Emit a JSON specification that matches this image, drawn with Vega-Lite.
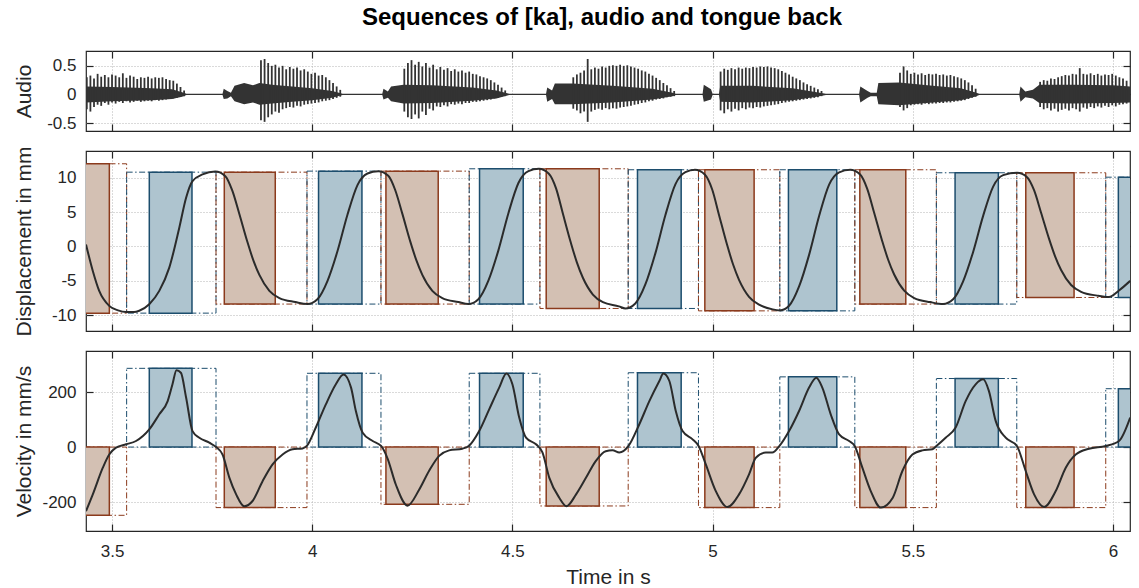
{
"$schema": "https://vega.github.io/schema/vega-lite/v6.json",
"padding": {"left": 12, "top": 5, "right": 8, "bottom": 0},
"title": {"text": "Sequences of [ka], audio and tongue back", "font": "Liberation Sans", "fontSize": 24, "fontWeight": "bold", "color": "#000000", "anchor": "middle", "frame": "group", "offset": 20, "dx": -6},
"datasets": {
"ges": [
{"kind":"fall","ds":3.40,"de":3.5365,"fs":3.40,"fe":3.4933,"dlo":-9.70,"dhi":12.04,"v":-248},
{"kind":"rise","ds":3.5365,"de":3.7597,"fs":3.5931,"fe":3.6997,"dlo":-9.70,"dhi":10.82,"v":286},
{"kind":"fall","ds":3.7597,"de":3.9869,"fs":3.7804,"fe":3.9077,"dlo":-8.38,"dhi":10.82,"v":-220},
{"kind":"rise","ds":3.9869,"de":4.1717,"fs":4.0158,"fe":4.1242,"dlo":-8.38,"dhi":10.97,"v":268},
{"kind":"fall","ds":4.1717,"de":4.3921,"fs":4.1841,"fe":4.3147,"dlo":-8.38,"dhi":10.97,"v":-208},
{"kind":"rise","ds":4.3921,"de":4.5687,"fs":4.4179,"fe":4.5270,"dlo":-8.38,"dhi":11.31,"v":268},
{"kind":"fall","ds":4.5687,"de":4.7892,"fs":4.5844,"fe":4.7168,"dlo":-9.02,"dhi":11.31,"v":-214},
{"kind":"rise","ds":4.7892,"de":4.9647,"fs":4.8124,"fe":4.9215,"dlo":-9.02,"dhi":11.17,"v":270},
{"kind":"fall","ds":4.9647,"de":5.1679,"fs":4.9806,"fe":5.1037,"dlo":-9.37,"dhi":11.17,"v":-220},
{"kind":"rise","ds":5.1679,"de":5.3552,"fs":5.1894,"fe":5.3102,"dlo":-9.37,"dhi":11.17,"v":255},
{"kind":"fall","ds":5.3552,"de":5.5589,"fs":5.3677,"fe":5.4825,"dlo":-8.38,"dhi":11.17,"v":-220},
{"kind":"rise","ds":5.5589,"de":5.7597,"fs":5.6056,"fe":5.7137,"dlo":-8.38,"dhi":10.73,"v":249},
{"kind":"fall","ds":5.7597,"de":5.9819,"fs":5.7822,"fe":5.9028,"dlo":-7.42,"dhi":10.73,"v":-220},
{"kind":"rise","ds":5.9819,"de":6.10,"fs":6.0134,"fe":6.10,"dlo":-7.42,"dhi":10.09,"v":212}
],
"disp": [
{"t":3.435,"d":0.3},{"t":3.452,"d":-3.56},{"t":3.468,"d":-6.46},{"t":3.493,"d":-8.64},{"t":3.515,"d":-9.3},{"t":3.535,"d":-9.55},{"t":3.555,"d":-9.55},
{"t":3.568,"d":-9.35},{"t":3.593,"d":-8.4},{"t":3.618,"d":-6.46},{"t":3.643,"d":-3.07},{"t":3.668,"d":2.74},{"t":3.685,"d":7.10},{"t":3.701,"d":9.51},{"t":3.726,"d":10.49},
{"t":3.758,"d":10.9},{"t":3.783,"d":10.23},{"t":3.800,"d":8.20},{"t":3.818,"d":4.73},{"t":3.838,"d":0.68},{"t":3.853,"d":-2.02},{"t":3.868,"d":-4.14},{"t":3.893,"d":-6.45},{"t":3.918,"d":-7.51},{"t":3.958,"d":-8.09},
{"t":3.988,"d":-8.38},{"t":4.013,"d":-7.68},{"t":4.038,"d":-5.03},{"t":4.063,"d":-0.70},{"t":4.088,"d":4.62},{"t":4.113,"d":8.94},{"t":4.138,"d":10.62},
{"t":4.165,"d":10.97},{"t":4.190,"d":10.29},{"t":4.207,"d":8.26},{"t":4.225,"d":4.78},{"t":4.245,"d":0.71},{"t":4.260,"d":-1.99},{"t":4.275,"d":-4.12},{"t":4.300,"d":-6.45},{"t":4.325,"d":-7.51},{"t":4.365,"d":-8.09},
{"t":4.390,"d":-8.38},{"t":4.415,"d":-7.67},{"t":4.440,"d":-4.97},{"t":4.465,"d":-0.56},{"t":4.490,"d":4.85},{"t":4.515,"d":9.24},{"t":4.540,"d":10.96},
{"t":4.566,"d":11.31},{"t":4.591,"d":10.60},{"t":4.609,"d":8.46},{"t":4.626,"d":4.80},{"t":4.646,"d":0.54},{"t":4.661,"d":-2.31},{"t":4.676,"d":-4.55},{"t":4.701,"d":-6.99},{"t":4.726,"d":-8.11},{"t":4.766,"d":-8.71},
{"t":4.782,"d":-9.02},{"t":4.807,"d":-8.29},{"t":4.832,"d":-5.53},{"t":4.857,"d":-1.00},{"t":4.882,"d":4.55},{"t":4.907,"d":9.05},{"t":4.932,"d":10.81},
{"t":4.956,"d":11.17},{"t":4.981,"d":10.45},{"t":4.999,"d":8.29},{"t":5.016,"d":4.60},{"t":5.036,"d":0.28},{"t":5.051,"d":-2.59},{"t":5.066,"d":-4.85},{"t":5.091,"d":-7.32},{"t":5.116,"d":-8.45},{"t":5.150,"d":-9.15},
{"t":5.168,"d":-9.30},{"t":5.191,"d":-8.63},{"t":5.216,"d":-5.82},{"t":5.241,"d":-1.22},{"t":5.266,"d":4.43},{"t":5.291,"d":9.01},{"t":5.316,"d":10.80},
{"t":5.3435,"d":11.17},{"t":5.3685,"d":10.49},{"t":5.386,"d":8.43},{"t":5.4035,"d":4.91},{"t":5.4235,"d":0.81},{"t":5.4385,"d":-1.93},{"t":5.4535,"d":-4.08},{"t":5.4785,"d":-6.43},{"t":5.5035,"d":-7.50},{"t":5.5435,"d":-8.09},
{"t":5.5757,"d":-8.38},{"t":5.6007,"d":-7.69},{"t":5.6257,"d":-5.07},{"t":5.6507,"d":-0.79},{"t":5.6757,"d":4.46},{"t":5.7007,"d":8.72},{"t":5.7257,"d":10.39},
{"t":5.7604,"d":10.73},{"t":5.7854,"d":10.09},{"t":5.8029,"d":8.19},{"t":5.8204,"d":4.92},{"t":5.8404,"d":1.11},{"t":5.8554,"d":-1.43},{"t":5.8704,"d":-3.43},{"t":5.8954,"d":-5.61},{"t":5.9204,"d":-6.60},{"t":5.9604,"d":-7.15},
{"t":5.990,"d":-7.35},{"t":6.015,"d":-6.4},{"t":6.043,"d":-5.0}
],
"vel": [
{"t":3.435,"v":-233},{"t":3.452,"v":-172},{"t":3.477,"v":-75},{"t":3.493,"v":-27},{"t":3.510,"v":-2},{"t":3.535,"v":10},{"t":3.560,"v":22},{"t":3.593,"v":64},{"t":3.618,"v":119},{"t":3.639,"v":167},{"t":3.651,"v":228},{"t":3.661,"v":279},{"t":3.672,"v":270},{"t":3.685,"v":180},{"t":3.701,"v":58},{"t":3.718,"v":34},{"t":3.743,"v":16},{"t":3.760,"v":0},
{"t":3.776,"v":-27},{"t":3.793,"v":-111},{"t":3.810,"v":-172},{"t":3.830,"v":-215},{"t":3.851,"v":-196},{"t":3.876,"v":-124},{"t":3.901,"v":-63},{"t":3.926,"v":-27},{"t":3.951,"v":-8},{"t":3.976,"v":-5},{"t":3.987,"v":5},
{"t":4.009,"v":71},{"t":4.034,"v":155},{"t":4.059,"v":228},{"t":4.078,"v":264},{"t":4.097,"v":216},{"t":4.109,"v":131},{"t":4.126,"v":52},{"t":4.151,"v":22},{"t":4.172,"v":4},
{"t":4.188,"v":-41},{"t":4.209,"v":-137},{"t":4.238,"v":-213},{"t":4.267,"v":-155},{"t":4.292,"v":-86},{"t":4.317,"v":-32},{"t":4.342,"v":-12},{"t":4.375,"v":-6},{"t":4.392,"v":5},
{"t":4.417,"v":58},{"t":4.442,"v":137},{"t":4.467,"v":216},{"t":4.485,"v":267},{"t":4.500,"v":228},{"t":4.517,"v":107},{"t":4.534,"v":34},{"t":4.559,"v":10},
{"t":4.575,"v":-19},{"t":4.592,"v":-111},{"t":4.617,"v":-184},{"t":4.635,"v":-215},{"t":4.659,"v":-172},{"t":4.684,"v":-111},{"t":4.708,"v":-51},{"t":4.733,"v":-15},{"t":4.750,"v":-12},{"t":4.767,"v":-20},{"t":4.790,"v":4},
{"t":4.817,"v":83},{"t":4.842,"v":167},{"t":4.867,"v":240},{"t":4.877,"v":267},{"t":4.892,"v":240},{"t":4.908,"v":131},{"t":4.925,"v":58},{"t":4.950,"v":28},{"t":4.965,"v":4},
{"t":4.983,"v":-63},{"t":5.008,"v":-160},{"t":5.037,"v":-218},{"t":5.066,"v":-172},{"t":5.091,"v":-99},{"t":5.108,"v":-39},{"t":5.133,"v":-20},{"t":5.149,"v":-20},{"t":5.167,"v":4},
{"t":5.191,"v":58},{"t":5.216,"v":131},{"t":5.241,"v":216},{"t":5.259,"v":252},{"t":5.274,"v":216},{"t":5.295,"v":119},{"t":5.316,"v":46},{"t":5.341,"v":22},{"t":5.355,"v":4},
{"t":5.374,"v":-75},{"t":5.395,"v":-160},{"t":5.420,"v":-220},{"t":5.450,"v":-184},{"t":5.474,"v":-87},{"t":5.499,"v":-27},{"t":5.524,"v":-12},{"t":5.549,"v":-8},{"t":5.559,"v":4},
{"t":5.582,"v":34},{"t":5.607,"v":71},{"t":5.632,"v":167},{"t":5.657,"v":228},{"t":5.676,"v":246},{"t":5.690,"v":204},{"t":5.707,"v":95},{"t":5.732,"v":34},{"t":5.760,"v":4},
{"t":5.782,"v":-87},{"t":5.803,"v":-172},{"t":5.828,"v":-218},{"t":5.857,"v":-160},{"t":5.882,"v":-75},{"t":5.907,"v":-27},{"t":5.940,"v":-6},{"t":5.982,"v":4},{"t":6.015,"v":22},{"t":6.043,"v":107}
],
"band": [
{"t":3.435,"lo":-0.14,"hi":0.14},{"t":3.50,"lo":-0.12,"hi":0.13},{"t":3.60,"lo":-0.10,"hi":0.11},{"t":3.65,"lo":-0.08,"hi":0.09},{"t":3.675,"lo":-0.04,"hi":0.04},{"t":3.686,"lo":-0.012,"hi":0.012},
{"t":3.776,"lo":-0.012,"hi":0.012},{"t":3.779,"lo":-0.08,"hi":0.10},{"t":3.788,"lo":-0.07,"hi":0.06},{"t":3.797,"lo":-0.03,"hi":0.03},{"t":3.806,"lo":-0.12,"hi":0.15},{"t":3.830,"lo":-0.17,"hi":0.20},{"t":3.852,"lo":-0.14,"hi":0.16},{"t":3.868,"lo":-0.18,"hi":0.20},
{"t":3.90,"lo":-0.16,"hi":0.17},{"t":3.95,"lo":-0.13,"hi":0.14},{"t":4.00,"lo":-0.10,"hi":0.11},{"t":4.05,"lo":-0.06,"hi":0.06},{"t":4.076,"lo":-0.012,"hi":0.012},
{"t":4.175,"lo":-0.012,"hi":0.012},{"t":4.178,"lo":-0.09,"hi":0.10},{"t":4.189,"lo":-0.06,"hi":0.05},{"t":4.197,"lo":-0.12,"hi":0.14},{"t":4.228,"lo":-0.16,"hi":0.17},{"t":4.30,"lo":-0.15,"hi":0.16},{"t":4.40,"lo":-0.11,"hi":0.12},{"t":4.46,"lo":-0.07,"hi":0.07},{"t":4.492,"lo":-0.012,"hi":0.012},
{"t":4.584,"lo":-0.012,"hi":0.012},{"t":4.587,"lo":-0.13,"hi":0.12},{"t":4.599,"lo":-0.08,"hi":0.07},{"t":4.606,"lo":-0.17,"hi":0.19},{"t":4.650,"lo":-0.17,"hi":0.19},{"t":4.75,"lo":-0.14,"hi":0.15},{"t":4.85,"lo":-0.09,"hi":0.10},{"t":4.90,"lo":-0.03,"hi":0.03},{"t":4.908,"lo":-0.012,"hi":0.012},
{"t":4.975,"lo":-0.012,"hi":0.012},{"t":4.978,"lo":-0.13,"hi":0.17},{"t":4.996,"lo":-0.09,"hi":0.09},{"t":5.000,"lo":-0.012,"hi":0.012},{"t":5.016,"lo":-0.012,"hi":0.012},
{"t":5.019,"lo":-0.13,"hi":0.15},{"t":5.10,"lo":-0.14,"hi":0.15},{"t":5.20,"lo":-0.10,"hi":0.11},{"t":5.26,"lo":-0.04,"hi":0.04},{"t":5.283,"lo":-0.012,"hi":0.012},
{"t":5.366,"lo":-0.012,"hi":0.012},{"t":5.369,"lo":-0.14,"hi":0.14},{"t":5.387,"lo":-0.06,"hi":0.06},{"t":5.395,"lo":-0.03,"hi":0.03},{"t":5.410,"lo":-0.03,"hi":0.03},{"t":5.414,"lo":-0.17,"hi":0.20},{"t":5.466,"lo":-0.19,"hi":0.21},
{"t":5.55,"lo":-0.14,"hi":0.15},{"t":5.62,"lo":-0.10,"hi":0.11},{"t":5.655,"lo":-0.04,"hi":0.04},{"t":5.666,"lo":-0.012,"hi":0.012},
{"t":5.766,"lo":-0.012,"hi":0.012},{"t":5.769,"lo":-0.13,"hi":0.14},{"t":5.781,"lo":-0.05,"hi":0.05},{"t":5.80,"lo":-0.07,"hi":0.08},{"t":5.816,"lo":-0.15,"hi":0.17},{"t":5.90,"lo":-0.16,"hi":0.17},{"t":6.00,"lo":-0.15,"hi":0.16},{"t":6.043,"lo":-0.14,"hi":0.14}
],
"spikes": [
{"t":3.437,"lo":-0.26,"hi":0.30},{"t":3.446,"lo":-0.30,"hi":0.33},{"t":3.455,"lo":-0.22,"hi":0.28},{"t":3.464,"lo":-0.18,"hi":0.36},{"t":3.473,"lo":-0.20,"hi":0.31},{"t":3.482,"lo":-0.15,"hi":0.34},{"t":3.491,"lo":-0.18,"hi":0.30},{"t":3.500,"lo":-0.14,"hi":0.35},{"t":3.509,"lo":-0.16,"hi":0.33},{"t":3.518,"lo":-0.13,"hi":0.30},{"t":3.527,"lo":-0.15,"hi":0.37},{"t":3.536,"lo":-0.12,"hi":0.29},{"t":3.545,"lo":-0.14,"hi":0.33},{"t":3.554,"lo":-0.13,"hi":0.31},{"t":3.563,"lo":-0.11,"hi":0.27},{"t":3.572,"lo":-0.13,"hi":0.30},{"t":3.581,"lo":-0.12,"hi":0.29},{"t":3.590,"lo":-0.11,"hi":0.31},{"t":3.599,"lo":-0.12,"hi":0.28},{"t":3.608,"lo":-0.10,"hi":0.30},{"t":3.617,"lo":-0.11,"hi":0.29},{"t":3.626,"lo":-0.10,"hi":0.30},{"t":3.635,"lo":-0.09,"hi":0.27},{"t":3.644,"lo":-0.08,"hi":0.25},{"t":3.653,"lo":-0.07,"hi":0.24},{"t":3.662,"lo":-0.06,"hi":0.19},{"t":3.671,"lo":-0.04,"hi":0.13},{"t":3.680,"lo":-0.03,"hi":0.07},
{"t":3.872,"lo":-0.45,"hi":0.60},{"t":3.881,"lo":-0.48,"hi":0.62},{"t":3.890,"lo":-0.40,"hi":0.55},{"t":3.899,"lo":-0.35,"hi":0.50},{"t":3.908,"lo":-0.30,"hi":0.52},{"t":3.917,"lo":-0.32,"hi":0.47},{"t":3.926,"lo":-0.26,"hi":0.50},{"t":3.935,"lo":-0.24,"hi":0.44},{"t":3.944,"lo":-0.22,"hi":0.48},{"t":3.953,"lo":-0.23,"hi":0.45},{"t":3.962,"lo":-0.20,"hi":0.47},{"t":3.971,"lo":-0.21,"hi":0.42},{"t":3.980,"lo":-0.18,"hi":0.44},{"t":3.989,"lo":-0.17,"hi":0.40},{"t":3.998,"lo":-0.16,"hi":0.36},{"t":4.007,"lo":-0.15,"hi":0.38},{"t":4.016,"lo":-0.14,"hi":0.33},{"t":4.025,"lo":-0.12,"hi":0.34},{"t":4.034,"lo":-0.11,"hi":0.30},{"t":4.043,"lo":-0.10,"hi":0.25},{"t":4.052,"lo":-0.08,"hi":0.20},{"t":4.061,"lo":-0.06,"hi":0.14},{"t":4.070,"lo":-0.04,"hi":0.08},
{"t":4.230,"lo":-0.30,"hi":0.45},{"t":4.239,"lo":-0.40,"hi":0.55},{"t":4.248,"lo":-0.43,"hi":0.60},{"t":4.257,"lo":-0.35,"hi":0.52},{"t":4.266,"lo":-0.42,"hi":0.57},{"t":4.275,"lo":-0.30,"hi":0.49},{"t":4.284,"lo":-0.36,"hi":0.55},{"t":4.293,"lo":-0.25,"hi":0.47},{"t":4.302,"lo":-0.28,"hi":0.52},{"t":4.311,"lo":-0.21,"hi":0.44},{"t":4.320,"lo":-0.22,"hi":0.48},{"t":4.329,"lo":-0.19,"hi":0.43},{"t":4.338,"lo":-0.21,"hi":0.46},{"t":4.347,"lo":-0.17,"hi":0.41},{"t":4.356,"lo":-0.18,"hi":0.44},{"t":4.365,"lo":-0.16,"hi":0.40},{"t":4.374,"lo":-0.17,"hi":0.42},{"t":4.383,"lo":-0.15,"hi":0.38},{"t":4.392,"lo":-0.15,"hi":0.40},{"t":4.401,"lo":-0.13,"hi":0.36},{"t":4.410,"lo":-0.13,"hi":0.35},{"t":4.419,"lo":-0.12,"hi":0.32},{"t":4.428,"lo":-0.11,"hi":0.30},{"t":4.437,"lo":-0.10,"hi":0.28},{"t":4.446,"lo":-0.09,"hi":0.25},{"t":4.455,"lo":-0.07,"hi":0.21},{"t":4.464,"lo":-0.06,"hi":0.17},{"t":4.473,"lo":-0.04,"hi":0.12},{"t":4.482,"lo":-0.03,"hi":0.07},
{"t":4.652,"lo":-0.25,"hi":0.30},{"t":4.661,"lo":-0.28,"hi":0.35},{"t":4.670,"lo":-0.33,"hi":0.38},{"t":4.679,"lo":-0.30,"hi":0.42},{"t":4.688,"lo":-0.48,"hi":0.62},{"t":4.697,"lo":-0.30,"hi":0.44},{"t":4.706,"lo":-0.27,"hi":0.47},{"t":4.715,"lo":-0.25,"hi":0.45},{"t":4.724,"lo":-0.27,"hi":0.49},{"t":4.733,"lo":-0.24,"hi":0.47},{"t":4.742,"lo":-0.26,"hi":0.50},{"t":4.751,"lo":-0.24,"hi":0.51},{"t":4.760,"lo":-0.25,"hi":0.50},{"t":4.769,"lo":-0.23,"hi":0.52},{"t":4.778,"lo":-0.22,"hi":0.50},{"t":4.787,"lo":-0.21,"hi":0.51},{"t":4.796,"lo":-0.20,"hi":0.49},{"t":4.805,"lo":-0.18,"hi":0.47},{"t":4.814,"lo":-0.17,"hi":0.45},{"t":4.823,"lo":-0.15,"hi":0.42},{"t":4.832,"lo":-0.14,"hi":0.40},{"t":4.841,"lo":-0.12,"hi":0.36},{"t":4.850,"lo":-0.11,"hi":0.33},{"t":4.859,"lo":-0.09,"hi":0.29},{"t":4.868,"lo":-0.08,"hi":0.25},{"t":4.877,"lo":-0.07,"hi":0.20},{"t":4.886,"lo":-0.05,"hi":0.16},{"t":4.895,"lo":-0.04,"hi":0.11},{"t":4.904,"lo":-0.03,"hi":0.06},
{"t":5.020,"lo":-0.28,"hi":0.40},{"t":5.029,"lo":-0.33,"hi":0.45},{"t":5.038,"lo":-0.26,"hi":0.43},{"t":5.047,"lo":-0.30,"hi":0.46},{"t":5.056,"lo":-0.25,"hi":0.44},{"t":5.065,"lo":-0.28,"hi":0.47},{"t":5.074,"lo":-0.24,"hi":0.45},{"t":5.083,"lo":-0.26,"hi":0.47},{"t":5.092,"lo":-0.23,"hi":0.46},{"t":5.101,"lo":-0.24,"hi":0.48},{"t":5.110,"lo":-0.22,"hi":0.47},{"t":5.119,"lo":-0.23,"hi":0.49},{"t":5.128,"lo":-0.21,"hi":0.48},{"t":5.137,"lo":-0.20,"hi":0.49},{"t":5.146,"lo":-0.19,"hi":0.47},{"t":5.155,"lo":-0.18,"hi":0.46},{"t":5.164,"lo":-0.17,"hi":0.44},{"t":5.173,"lo":-0.15,"hi":0.41},{"t":5.182,"lo":-0.14,"hi":0.38},{"t":5.191,"lo":-0.13,"hi":0.35},{"t":5.200,"lo":-0.12,"hi":0.31},{"t":5.209,"lo":-0.11,"hi":0.28},{"t":5.218,"lo":-0.10,"hi":0.25},{"t":5.227,"lo":-0.09,"hi":0.21},{"t":5.236,"lo":-0.08,"hi":0.18},{"t":5.245,"lo":-0.07,"hi":0.15},{"t":5.254,"lo":-0.06,"hi":0.12},{"t":5.263,"lo":-0.05,"hi":0.09},{"t":5.272,"lo":-0.03,"hi":0.06},
{"t":5.468,"lo":-0.22,"hi":0.38},{"t":5.477,"lo":-0.28,"hi":0.49},{"t":5.486,"lo":-0.24,"hi":0.42},{"t":5.495,"lo":-0.19,"hi":0.36},{"t":5.504,"lo":-0.18,"hi":0.38},{"t":5.513,"lo":-0.17,"hi":0.35},{"t":5.522,"lo":-0.18,"hi":0.37},{"t":5.531,"lo":-0.16,"hi":0.34},{"t":5.540,"lo":-0.17,"hi":0.36},{"t":5.549,"lo":-0.16,"hi":0.35},{"t":5.558,"lo":-0.16,"hi":0.36},{"t":5.567,"lo":-0.15,"hi":0.34},{"t":5.576,"lo":-0.15,"hi":0.35},{"t":5.585,"lo":-0.14,"hi":0.33},{"t":5.594,"lo":-0.14,"hi":0.34},{"t":5.603,"lo":-0.13,"hi":0.32},{"t":5.612,"lo":-0.12,"hi":0.30},{"t":5.621,"lo":-0.11,"hi":0.28},{"t":5.630,"lo":-0.10,"hi":0.25},{"t":5.639,"lo":-0.08,"hi":0.21},{"t":5.648,"lo":-0.06,"hi":0.16},{"t":5.657,"lo":-0.04,"hi":0.10},
{"t":5.818,"lo":-0.22,"hi":0.22},{"t":5.827,"lo":-0.26,"hi":0.25},{"t":5.836,"lo":-0.24,"hi":0.24},{"t":5.845,"lo":-0.28,"hi":0.28},{"t":5.854,"lo":-0.25,"hi":0.27},{"t":5.863,"lo":-0.30,"hi":0.30},{"t":5.872,"lo":-0.27,"hi":0.32},{"t":5.881,"lo":-0.25,"hi":0.34},{"t":5.890,"lo":-0.28,"hi":0.33},{"t":5.899,"lo":-0.24,"hi":0.36},{"t":5.908,"lo":-0.26,"hi":0.35},{"t":5.917,"lo":-0.30,"hi":0.46},{"t":5.926,"lo":-0.23,"hi":0.36},{"t":5.935,"lo":-0.25,"hi":0.35},{"t":5.944,"lo":-0.22,"hi":0.37},{"t":5.953,"lo":-0.24,"hi":0.34},{"t":5.962,"lo":-0.21,"hi":0.36},{"t":5.971,"lo":-0.23,"hi":0.33},{"t":5.980,"lo":-0.20,"hi":0.35},{"t":5.989,"lo":-0.22,"hi":0.34},{"t":5.998,"lo":-0.19,"hi":0.36},{"t":6.007,"lo":-0.21,"hi":0.33},{"t":6.016,"lo":-0.18,"hi":0.30},{"t":6.025,"lo":-0.17,"hi":0.28},{"t":6.034,"lo":-0.16,"hi":0.24}
]
},
"spacing": 20,
"bounds": "flush",
"resolve": {"scale": {"x": "independent", "y": "independent"}},
"vconcat": [
{
"width": 1044, "height": 80,
"resolve": {"axis": {"x": "independent", "y": "independent"}},
"layer": [
{"data": {"name": "band"}, "mark": {"type": "area", "color": "#333333", "clip": true},
 "encoding": {
  "x": {"field": "t", "type": "quantitative", "scale": {"domain": [3.435, 6.0425], "nice": false, "zero": false}, "axis": {"orient": "bottom", "values": [3.5,4,4.5,5,5.5,6], "labels": false, "title": null, "grid": true}},
  "y": {"field": "lo", "type": "quantitative", "scale": {"domain": [-0.64, 0.76], "nice": false, "zero": false}, "axis": {"orient": "left", "values": [-0.5,0,0.5], "grid": true, "title": "Audio", "labelExpr": "'' + datum.value"}},
  "y2": {"field": "hi"}}},
{"data": {"name": "spikes"}, "mark": {"type": "rule", "color": "#333333", "strokeWidth": 1.8, "clip": true},
 "encoding": {
  "x": {"field": "t", "type": "quantitative", "scale": {"domain": [3.435, 6.0425], "nice": false, "zero": false}, "axis": {"orient": "top", "values": [3.5,4,4.5,5,5.5,6], "labels": false, "title": null, "grid": false}},
  "y": {"field": "lo", "type": "quantitative", "scale": {"domain": [-0.64, 0.76], "nice": false, "zero": false}, "axis": {"orient": "right", "values": [-0.5,0,0.5], "labels": false, "title": null, "grid": false}},
  "y2": {"field": "hi"}}}
]
},
{
"width": 1044, "height": 180,
"resolve": {"axis": {"x": "independent", "y": "independent"}},
"layer": [
{"data": {"name": "ges"}, "mark": {"type": "rect", "fillOpacity": 0, "strokeWidth": 1, "strokeDash": [6, 2.5, 1.5, 2.5], "clip": true},
 "encoding": {
  "x": {"field": "ds", "type": "quantitative", "scale": {"domain": [3.435, 6.0425], "nice": false, "zero": false}, "axis": {"orient": "top", "values": [3.5,4,4.5,5,5.5,6], "labels": false, "title": null, "grid": false}},
  "x2": {"field": "de"},
  "y": {"field": "dlo", "type": "quantitative", "scale": {"domain": [-12.3, 13.9], "nice": false, "zero": false}, "axis": {"orient": "right", "values": [-10,-5,0,5,10], "labels": false, "title": null, "grid": false}},
  "y2": {"field": "dhi"},
  "stroke": {"field": "kind", "type": "nominal", "scale": {"domain": ["fall","rise"], "range": ["#8b3a1c", "#1c4d6d"]}, "legend": null}}},
{"data": {"name": "ges"}, "mark": {"type": "rect", "strokeWidth": 1.5, "clip": true},
 "encoding": {
  "x": {"field": "fs", "type": "quantitative", "scale": {"domain": [3.435, 6.0425], "nice": false, "zero": false}, "axis": {"orient": "bottom", "values": [3.5,4,4.5,5,5.5,6], "labels": false, "title": null, "grid": true}},
  "x2": {"field": "fe"},
  "y": {"field": "dlo", "type": "quantitative", "scale": {"domain": [-12.3, 13.9], "nice": false, "zero": false}, "axis": {"orient": "left", "values": [-10,-5,0,5,10], "grid": true, "title": "Displacement in mm", "labelExpr": "'' + datum.value"}},
  "y2": {"field": "dhi"},
  "fill": {"field": "kind", "type": "nominal", "scale": {"domain": ["fall","rise"], "range": ["#d3c0b3", "#aec4cf"]}, "legend": null},
  "stroke": {"field": "kind", "type": "nominal", "scale": {"domain": ["fall","rise"], "range": ["#8b3a1c", "#1c4d6d"]}, "legend": null}}},
{"data": {"name": "disp"}, "mark": {"type": "line", "color": "#2b2b2b", "strokeWidth": 2, "interpolate": "monotone", "clip": true},
 "encoding": {
  "x": {"field": "t", "type": "quantitative", "scale": {"domain": [3.435, 6.0425], "nice": false, "zero": false}, "axis": null},
  "y": {"field": "d", "type": "quantitative", "scale": {"domain": [-12.3, 13.9], "nice": false, "zero": false}, "axis": null}}}
]
},
{
"width": 1044, "height": 180,
"resolve": {"axis": {"x": "independent", "y": "independent"}},
"layer": [
{"data": {"name": "ges"}, "mark": {"type": "rect", "fillOpacity": 0, "strokeWidth": 1, "strokeDash": [6, 2.5, 1.5, 2.5], "clip": true},
 "encoding": {
  "x": {"field": "ds", "type": "quantitative", "scale": {"domain": [3.435, 6.0425], "nice": false, "zero": false}, "axis": {"orient": "top", "values": [3.5,4,4.5,5,5.5,6], "labels": false, "title": null, "grid": false}},
  "x2": {"field": "de"},
  "y": {"field": "v", "type": "quantitative", "scale": {"domain": [-305, 349], "nice": false, "zero": false}, "axis": {"orient": "right", "values": [-200,0,200], "labels": false, "title": null, "grid": false}},
  "y2": {"datum": 0},
  "stroke": {"field": "kind", "type": "nominal", "scale": {"domain": ["fall","rise"], "range": ["#8b3a1c", "#1c4d6d"]}, "legend": null}}},
{"data": {"name": "ges"}, "mark": {"type": "rect", "strokeWidth": 1.5, "clip": true},
 "encoding": {
  "x": {"field": "fs", "type": "quantitative", "scale": {"domain": [3.435, 6.0425], "nice": false, "zero": false}, "axis": {"orient": "bottom", "values": [3.5,4,4.5,5,5.5,6], "grid": true, "title": "Time in s", "labelPadding": 19, "titleY": 52, "titleBaseline": "alphabetic", "labelExpr": "'' + datum.value"}},
  "x2": {"field": "fe"},
  "y": {"field": "v", "type": "quantitative", "scale": {"domain": [-305, 349], "nice": false, "zero": false}, "axis": {"orient": "left", "values": [-200,0,200], "grid": true, "title": "Velocity in mm/s", "labelExpr": "'' + datum.value"}},
  "y2": {"datum": 0},
  "fill": {"field": "kind", "type": "nominal", "scale": {"domain": ["fall","rise"], "range": ["#d3c0b3", "#aec4cf"]}, "legend": null},
  "stroke": {"field": "kind", "type": "nominal", "scale": {"domain": ["fall","rise"], "range": ["#8b3a1c", "#1c4d6d"]}, "legend": null}}},
{"data": {"name": "vel"}, "mark": {"type": "line", "color": "#2b2b2b", "strokeWidth": 2, "interpolate": "monotone", "clip": true},
 "encoding": {
  "x": {"field": "t", "type": "quantitative", "scale": {"domain": [3.435, 6.0425], "nice": false, "zero": false}, "axis": null},
  "y": {"field": "v", "type": "quantitative", "scale": {"domain": [-305, 349], "nice": false, "zero": false}, "axis": null}}}
]
}
],
"config": {
 "view": {"stroke": "#262626", "strokeWidth": 1.2},
 "axisY": {"titleX": -56, "titleBaseline": "alphabetic"},
 "axis": {"labelFont": "Liberation Sans", "titleFont": "Liberation Sans", "labelFontSize": 17, "titleFontSize": 21, "titleFontWeight": "normal", "labelColor": "#262626", "titleColor": "#262626", "tickColor": "#262626", "tickSize": -7, "tickWidth": 1.2, "domain": false, "gridColor": "#b4b4b4", "gridDash": [1, 2], "gridWidth": 1, "labelPadding": 17}
}
}
